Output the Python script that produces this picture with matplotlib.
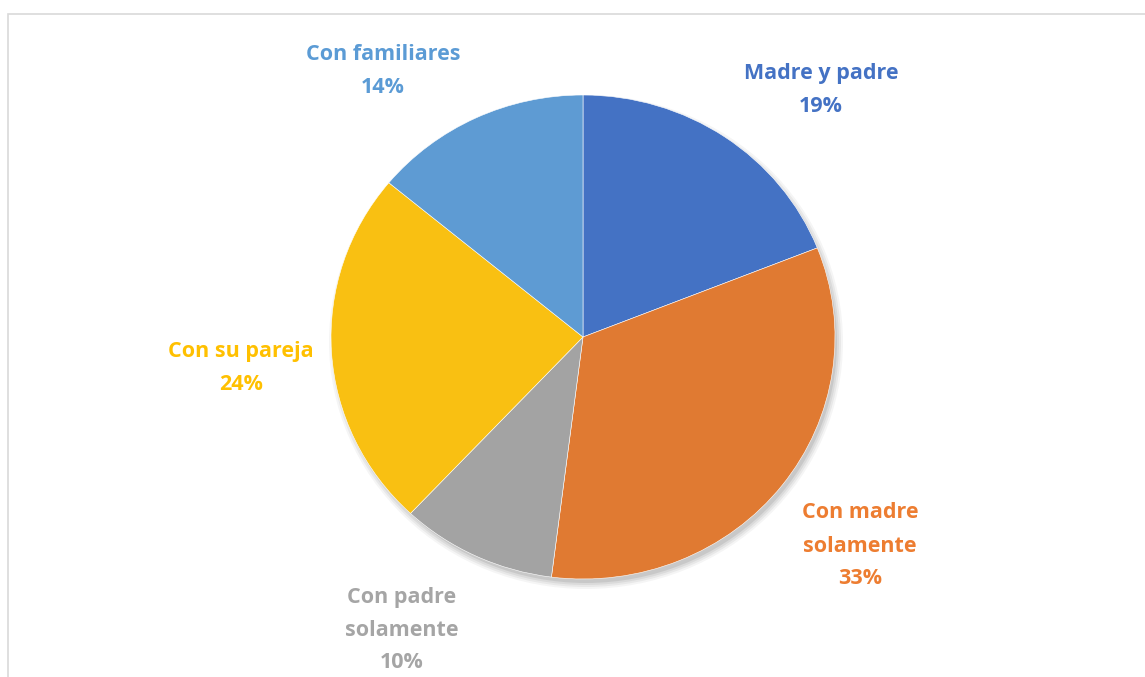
import matplotlib
matplotlib.use("Agg")
import matplotlib.pyplot as plt
import matplotlib.transforms as mtransforms
from matplotlib.patches import Ellipse, Rectangle

categories = ["Madre y padre", "Con madre\nsolamente", "Con padre\nsolamente", "Con su pareja", "Con familiares"]
values = [19, 33, 10, 24, 14]
slice_colors = ["#4472C4", "#E07A32", "#A3A3A3", "#F9C012", "#5E9BD3"]
label_colors = ["#4472C4", "#ED7D31", "#A5A5A5", "#FFC000", "#5B9BD5"]
# label centers in pixel coordinates (x from left, y from top)
label_pos = [(821, 90), (860, 546), (402, 630), (241, 368), (383, 71)]

W, H = 1145, 677
fig = plt.figure(figsize=(W / 100, H / 100), dpi=100)
ax = fig.add_axes([0, 0, 1, 1])

cx, cy = 583, 337
rx, ry = 252, 242

ax.set_xlim(0, W)
ax.set_ylim(0, H)
ax.set_aspect("auto")

# soft shadow
for i, a in enumerate([0.04, 0.05, 0.06, 0.08]):
    ax.add_patch(Ellipse((cx + 3, H - cy - 5), 2 * rx + 10 - 4 * i, 2 * ry + 10 - 4 * i,
                         facecolor="black", alpha=a, edgecolor="none", zorder=0))

wedges, _ = ax.pie(values, colors=slice_colors, startangle=90, counterclock=False,
                   radius=1, center=(0, 0),
                   wedgeprops=dict(edgecolor="white", linewidth=0.4))
tr = mtransforms.Affine2D().scale(rx, ry).translate(cx, H - cy) + ax.transData
for w in wedges:
    w.set_transform(tr)
    w.set_zorder(2)

ax.set_xlim(0, W)
ax.set_ylim(0, H)
ax.set_aspect("auto")
ax.axis("off")

for cat, v, col, (px, py) in zip(categories, values, label_colors, label_pos):
    ax.text(px, H - py, f"{cat}\n{v}%", ha="center", va="center", color=col,
            fontsize=15.5, fontweight="bold", family=["Open Sans", "DejaVu Sans"],
            linespacing=1.75, zorder=3)

# chart frame
ax.add_patch(Rectangle((8, -5), W + 10, H - 14 + 5, fill=False, edgecolor="#D9D9D9",
                       linewidth=1.2, zorder=1, clip_on=False))

fig.savefig("out.png", dpi=100, facecolor="white")
